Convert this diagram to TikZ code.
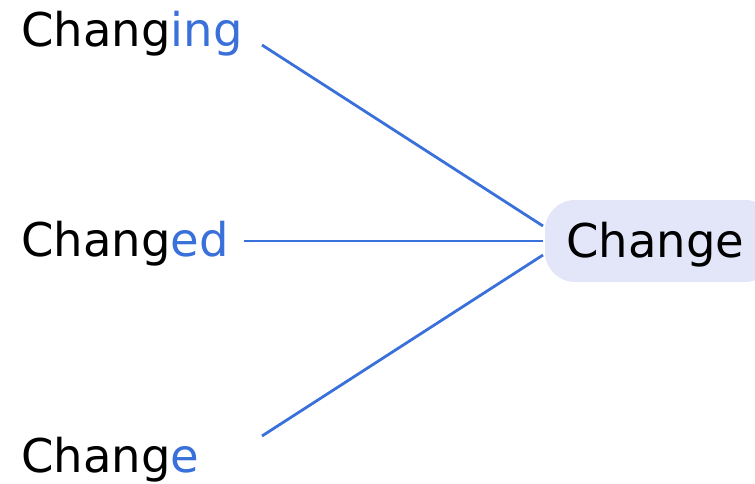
\documentclass[tikz,border=0pt]{standalone}
\usepackage{fontspec}
\setmainfont{DejaVu Sans}
\definecolor{wblue}{RGB}{58,112,218}
\definecolor{boxfill}{RGB}{226,230,248}
\begin{document}
\begin{tikzpicture}[x=1pt,y=-1pt,
  word/.style={anchor=base west,inner sep=0pt,font=\fontsize{46.5}{56}\selectfont},
  link/.style={draw=wblue,line width=2.8pt},
  hub/.style={fill=boxfill,rounded corners=30pt}]
\useasboundingbox (0,0) rectangle (755,483);
\fill[hub] (545,200) rectangle (775,282);
\node[word] (c) at (566,257) {Change};
\node[word] (w1) at (21,46) {Chang\textcolor{wblue}{ing}};
\node[word] (w2) at (21,256) {Chang\textcolor{wblue}{ed}};
\node[word] (w3) at (21,472) {Chang\textcolor{wblue}{e}};
\coordinate (s1) at (262,45);
\coordinate (s2) at (244,241);
\coordinate (s3) at (262,436);
\coordinate (e1) at (543,226);
\coordinate (e2) at (543,241);
\coordinate (e3) at (543,255);
\draw[link] (s1) -- (e1);
\draw[link] (s2) -- (e2);
\draw[link] (s3) -- (e3);
\end{tikzpicture}
\end{document}
